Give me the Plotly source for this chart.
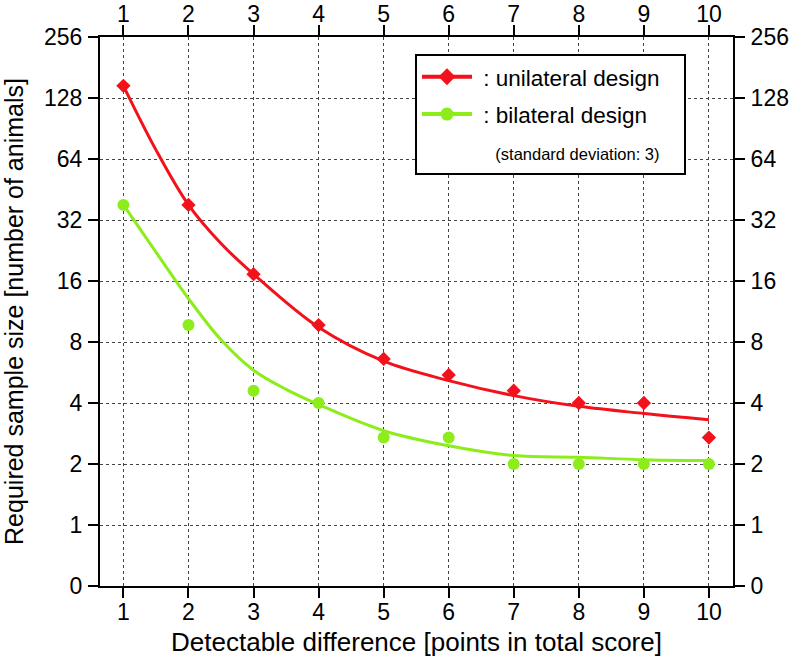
import plotly.graph_objects as go
import math

# ---- data ----
diff_points = [1, 2, 3, 4, 5, 6, 7, 8, 9, 10]
unilateral_n = [147, 38, 17.3, 9.7, 6.6, 5.5, 4.6, 4.0, 4.0, 2.7]
bilateral_n = [38, 9.7, 4.6, 4.0, 2.7, 2.7, 2.0, 2.0, 2.0, 2.0]

# fitted curves
uni_fit_x = [1, 1.5, 2, 2.5, 3, 4, 5, 6, 7, 8, 9, 10]
uni_fit_y = [147, 71, 38, 24.5, 17.3, 9.45, 6.43, 5.16, 4.35, 3.85, 3.55, 3.31]
bi_fit_x = [1, 1.5, 2, 2.5, 3, 3.5, 4, 5, 6, 7, 8, 9, 10]
bi_fit_y = [38, 22.2, 13.1, 8.2, 5.8, 4.67, 3.93, 2.92, 2.46, 2.2, 2.16, 2.1, 2.08]

x_ticks = [1, 2, 3, 4, 5, 6, 7, 8, 9, 10]
y_tickvals = [0.5, 1, 2, 4, 8, 16, 32, 64, 128, 256]
y_ticktext = ["0", "1", "2", "4", "8", "16", "32", "64", "128", "256"]

legend_names = ["\u00a0: unilateral design\u00a0\u00a0\u00a0",
                "\u00a0: bilateral design",
                "\u00a0\u00a0\u00a0\u00a0(standard deviation: 3)"]

RED = "#f2121c"
GREEN = "#8ced1a"
FONT = "Liberation Sans, Arial, sans-serif"

fig = go.Figure()

fig.add_trace(go.Scatter(x=uni_fit_x, y=uni_fit_y, mode="lines",
                         line=dict(color=RED, width=3, shape="spline"),
                         showlegend=False, hoverinfo="skip"))
fig.add_trace(go.Scatter(x=bi_fit_x, y=bi_fit_y, mode="lines",
                         line=dict(color=GREEN, width=3, shape="spline"),
                         showlegend=False, hoverinfo="skip"))
fig.add_trace(go.Scatter(x=diff_points, y=unilateral_n, mode="markers",
                         marker=dict(symbol="diamond", size=11, color=RED),
                         showlegend=False))
fig.add_trace(go.Scatter(x=diff_points, y=bilateral_n, mode="markers",
                         marker=dict(symbol="circle", size=12, color=GREEN),
                         showlegend=False))

# legend entries
fig.add_trace(go.Scatter(x=[None], y=[None], mode="lines+markers",
                         name=legend_names[0], legendgroup="a",
                         line=dict(color=RED, width=4),
                         marker=dict(symbol="diamond", size=13, color=RED),
                         xaxis="x2", yaxis="y2"))
fig.add_trace(go.Scatter(x=[None], y=[None], mode="lines+markers",
                         name=legend_names[1], legendgroup="b",
                         line=dict(color=GREEN, width=4),
                         marker=dict(symbol="circle", size=13, color=GREEN),
                         xaxis="x2", yaxis="y2"))
fig.add_trace(go.Scatter(x=[None], y=[None], mode="lines",
                         name='<span style="font-size:16.5px">' + legend_names[2] + '</span>',
                         legendgroup="c",
                         line=dict(color="rgba(0,0,0,0)", width=0),
                         xaxis="x2", yaxis="y2"))

xr = [0.64, 10.37]
yr = [math.log10(0.5), math.log10(256)]

common_x = dict(range=xr, tickmode="array", tickvals=x_ticks, automargin=False,
                ticks="outside", ticklen=10, tickwidth=2, tickcolor="black",
                showline=True, linecolor="black", linewidth=2,
                tickfont=dict(size=23, color="black", family=FONT),
                ticklabelstandoff=-6, zeroline=False)
common_y = dict(type="log", range=yr, tickmode="array", tickvals=y_tickvals,
                ticktext=y_ticktext, automargin=False,
                ticks="outside", ticklen=10, tickwidth=2, tickcolor="black",
                showline=True, linecolor="black", linewidth=2,
                tickfont=dict(size=23, color="black", family=FONT),
                ticklabelstandoff=1, zeroline=False)

fig.update_layout(
    template="none",
    width=792, height=659,
    margin=dict(l=100, r=59, t=37, b=73),
    paper_bgcolor="white", plot_bgcolor="white",
    font=dict(family=FONT, color="black"),
    xaxis=dict(**common_x, showgrid=True, gridcolor="#444", gridwidth=1, griddash="dot",
               title=dict(text="Detectable difference [points in total score]",
                          font=dict(size=26, color="black", family=FONT), standoff=9)),
    yaxis=dict(**common_y, showgrid=True, gridcolor="#444", gridwidth=1, griddash="dot",
               title=dict(text="Required sample size [number of animals]",
                          font=dict(size=25, color="black", family=FONT), standoff=31)),
    xaxis2=dict(**common_x, overlaying="x", side="top", anchor="y", showgrid=False),
    yaxis2=dict(**common_y, overlaying="y", side="right", anchor="x", showgrid=False),
    legend=dict(x=0.4976, y=0.9696, xanchor="left", yanchor="top",
                bgcolor="white", bordercolor="black", borderwidth=2,
                font=dict(size=22.5, color="black", family=FONT),
                itemwidth=50, tracegroupgap=5, traceorder="grouped"),
    showlegend=True,
)

fig.write_html("out.html",
               config={"displayModeBar": False},
               post_script="document.body.style.margin='0';document.body.style.padding='0';")
